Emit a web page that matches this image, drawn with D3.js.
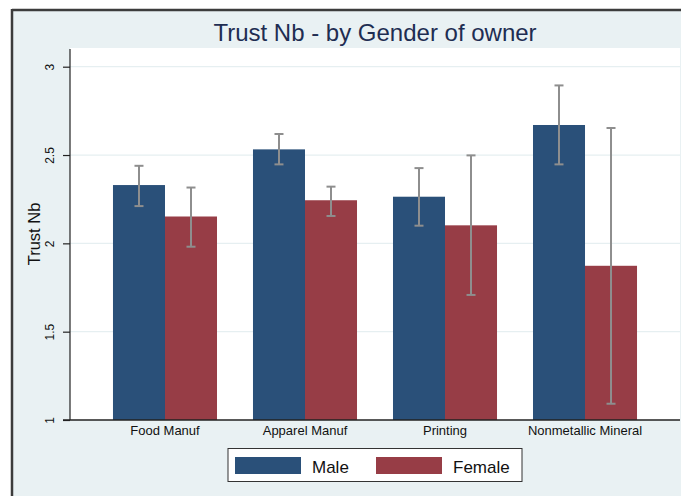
<!DOCTYPE html>
<html>
<head>
<meta charset="utf-8">
<script src="https://cdn.jsdelivr.net/npm/d3@7"></script>
<style>
  html, body { margin: 0; padding: 0; background: #ffffff; }
  svg { display: block; font-family: "Liberation Sans", Arial, Helvetica, sans-serif; }
</style>
</head>
<body>
<svg id="chart" width="681" height="496"></svg>
<script>
// Mean trust score with confidence intervals, by sector and gender of owner
const categories = ["Food Manuf", "Apparel Manuf", "Printing", "Nonmetallic Mineral"];
const seriesNames = ["Male", "Female"];
const maleMean  = [2.330, 2.532, 2.264, 2.670];
const maleLow   = [2.211, 2.447, 2.100, 2.447];
const maleHigh  = [2.439, 2.619, 2.426, 2.894];
const femaleMean = [2.152, 2.244, 2.102, 1.873];
const femaleLow  = [1.981, 2.155, 1.708, 1.092];
const femaleHigh = [2.316, 2.321, 2.498, 2.653];
const yTicks = [1, 1.5, 2, 2.5, 3];
const yTickLabels = ["1", "1.5", "2", "2.5", "3"];

const colors = { Male: "#2a5079", Female: "#973d46" };

const rows = categories.map((c, i) => ({
  category: c,
  values: [
    { series: "Male", mean: maleMean[i], lo: maleLow[i], hi: maleHigh[i] },
    { series: "Female", mean: femaleMean[i], lo: femaleLow[i], hi: femaleHigh[i] }
  ]
}));

const svg = d3.select("#chart");
const W = 681, H = 496;
const plot = { left: 70, right: 680, top: 48, bottom: 420 };

// Graph background and outer frame
svg.append("rect").attr("x", 12).attr("y", 10).attr("width", W - 12).attr("height", H - 10)
  .attr("fill", "#e9f1f3");
svg.append("line").attr("x1", 12).attr("x2", W).attr("y1", 10).attr("y2", 10)
  .attr("stroke", "#3c3c3c").attr("stroke-width", 2.5);
svg.append("line").attr("x1", 12).attr("x2", 12).attr("y1", 9).attr("y2", H)
  .attr("stroke", "#3c3c3c").attr("stroke-width", 2.5);

// Plot region
svg.append("rect").attr("x", plot.left).attr("y", plot.top)
  .attr("width", plot.right - plot.left).attr("height", plot.bottom - plot.top)
  .attr("fill", "#ffffff");

const y = d3.scaleLinear().domain([1, 3]).range([plot.bottom, 66.7]);
const x0 = d3.scaleBand().domain(categories).range([plot.left, plot.right])
  .paddingInner(0.257).paddingOuter(0.307);
const x1 = d3.scaleBand().domain(seriesNames).range([0, x0.bandwidth()]);

// Gridlines
svg.append("g").selectAll("line").data(yTicks.slice(1)).join("line")
  .attr("x1", plot.left).attr("x2", plot.right)
  .attr("y1", d => y(d)).attr("y2", d => y(d))
  .attr("stroke", "#e6eff1").attr("stroke-width", 1.2);

// Bars
const groups = svg.append("g").selectAll("g").data(rows).join("g")
  .attr("transform", d => `translate(${x0(d.category)},0)`);

groups.selectAll("rect").data(d => d.values).join("rect")
  .attr("x", d => x1(d.series))
  .attr("y", d => y(d.mean))
  .attr("width", x1.bandwidth())
  .attr("height", d => y(1) - y(d.mean))
  .attr("fill", d => colors[d.series]);

// Confidence interval whiskers
const capHalf = 4.5;
const whisk = groups.selectAll("g.ci").data(d => d.values).join("g").attr("class", "ci")
  .attr("stroke", "#8e8e8e").attr("stroke-width", 2);
whisk.append("line")
  .attr("x1", d => x1(d.series) + x1.bandwidth() / 2)
  .attr("x2", d => x1(d.series) + x1.bandwidth() / 2)
  .attr("y1", d => y(d.lo)).attr("y2", d => y(d.hi));
whisk.append("line")
  .attr("x1", d => x1(d.series) + x1.bandwidth() / 2 - capHalf)
  .attr("x2", d => x1(d.series) + x1.bandwidth() / 2 + capHalf)
  .attr("y1", d => y(d.hi)).attr("y2", d => y(d.hi));
whisk.append("line")
  .attr("x1", d => x1(d.series) + x1.bandwidth() / 2 - capHalf)
  .attr("x2", d => x1(d.series) + x1.bandwidth() / 2 + capHalf)
  .attr("y1", d => y(d.lo)).attr("y2", d => y(d.lo));

// Y axis
const yAxis = d3.axisLeft(y).tickValues(yTicks)
  .tickFormat((d, i) => yTickLabels[i]).tickSize(7).tickPadding(0);
const gy = svg.append("g").attr("transform", `translate(${plot.left},0)`).call(yAxis);
gy.select(".domain").attr("d", `M0,${plot.top + 1}V${plot.bottom}`)
  .attr("stroke", "#222").attr("stroke-width", 1.2);
gy.selectAll(".tick line").attr("stroke", "#222").attr("stroke-width", 1.2);
gy.selectAll(".tick text")
  .attr("x", null).attr("dy", null)
  .attr("text-anchor", "middle")
  .attr("transform", "translate(-20,0) rotate(-90)")
  .attr("dy", "0.35em")
  .attr("font-size", 12).attr("fill", "#111")
  .style("font-family", "Liberation Sans, Arial, sans-serif");

// X axis
const xAxis = d3.axisBottom(x0).tickSize(0).tickPadding(6);
const gx = svg.append("g").attr("transform", `translate(0,${plot.bottom})`).call(xAxis);
gx.select(".domain").attr("d", `M${plot.left - 7},0H${plot.right}`)
  .attr("stroke", "#222").attr("stroke-width", 1.4);
gx.selectAll(".tick text").attr("font-size", 13).attr("fill", "#111")
  .attr("dy", "0.71em")
  .style("font-family", "Liberation Sans, Arial, sans-serif");

// Axis title
svg.append("text")
  .attr("transform", `translate(34,${(plot.top + plot.bottom) / 2}) rotate(-90)`)
  .attr("text-anchor", "middle").attr("dy", "0.35em")
  .attr("font-size", 16.5).attr("fill", "#111")
  .text("Trust Nb");

// Chart title
svg.append("text")
  .attr("x", (plot.left + plot.right) / 2).attr("y", 41)
  .attr("text-anchor", "middle")
  .attr("font-size", 24).attr("fill", "#1e2d52")
  .text("Trust Nb - by Gender of owner");

// Legend
const legend = svg.append("g");
legend.append("rect").attr("x", 228).attr("y", 448.5).attr("width", 294).attr("height", 33)
  .attr("fill", "#ffffff").attr("stroke", "#333").attr("stroke-width", 1);
const legendItems = legend.selectAll("g").data(seriesNames).join("g")
  .attr("transform", (d, i) => `translate(${235 + i * 141},0)`);
legendItems.append("rect").attr("x", 0).attr("y", 457).attr("width", 66).attr("height", 17)
  .attr("fill", d => colors[d]);
legendItems.append("text").attr("x", 77).attr("y", 472.5)
  .attr("font-size", 17).attr("fill", "#111")
  .text(d => d);
</script>
</body>
</html>
